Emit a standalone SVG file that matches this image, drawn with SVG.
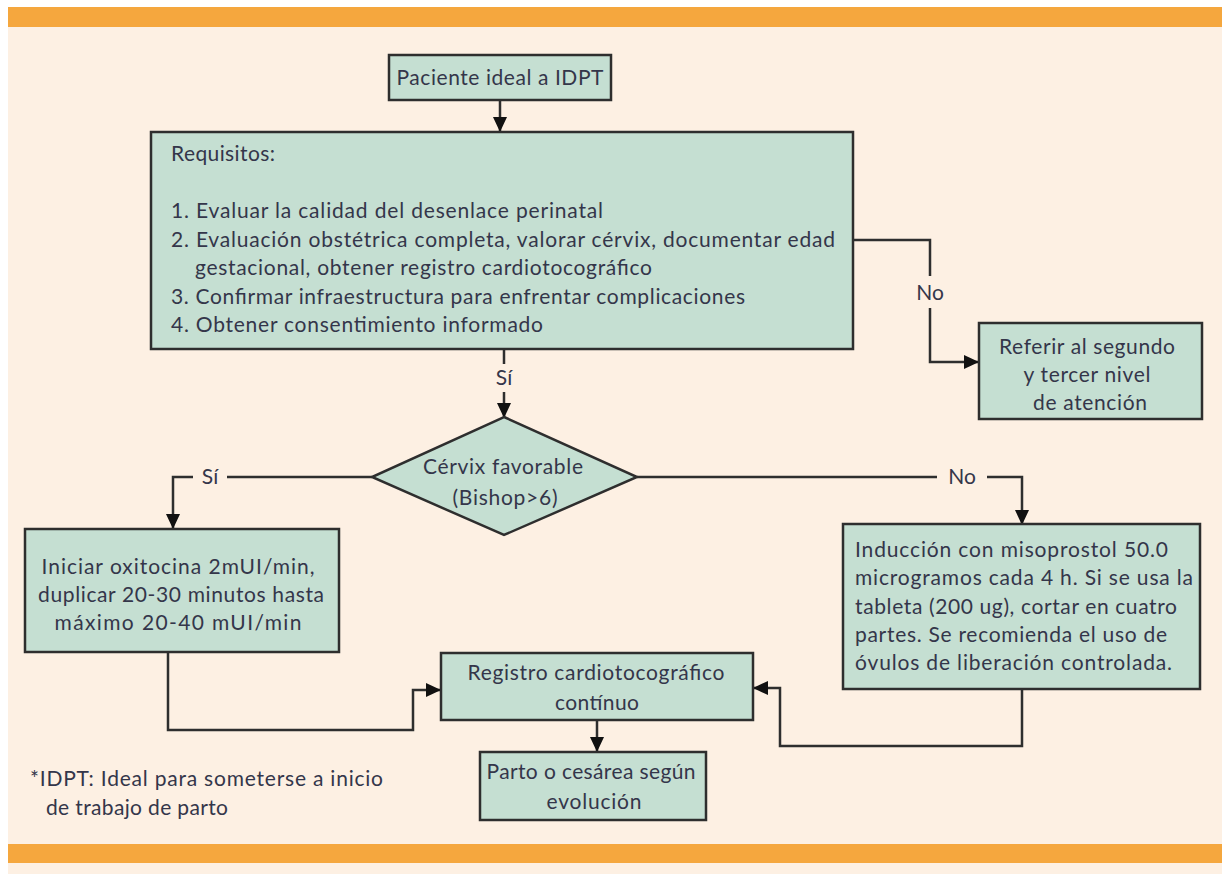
<svg xmlns="http://www.w3.org/2000/svg" width="1229" height="882" viewBox="0 0 1229 882">
<defs>
<style>
.bg{fill:#fdf0e3}
.bar{fill:#f5a73e}
.box{fill:#c5dfd2;stroke:#2e2e2e;stroke-width:2.5}
.t{font-family:Lato,"Liberation Sans",sans-serif;font-size:21px;fill:#34364a}
.c{text-anchor:middle}
.ln{fill:none;stroke:#2e2e2e;stroke-width:2.5}
</style>
<marker id="ah" markerUnits="userSpaceOnUse" markerWidth="16" markerHeight="16" viewBox="0 0 16 16" refX="14" refY="8" orient="auto">
<path d="M0,1 L15,8 L0,15 Z" fill="#111"/>
</marker>
</defs>
<rect x="0" y="0" width="1229" height="882" fill="#ffffff"/>
<rect class="bg" x="8" y="8" width="1214" height="866"/>
<rect class="bar" x="8" y="7" width="1214" height="20"/>
<rect class="bar" x="8" y="844" width="1214" height="19"/>

<g id="connectors">
<path class="ln" d="M500,100 V131" marker-end="url(#ah)"/>
<path class="ln" d="M853,240 H930 V276"/>
<path class="ln" d="M930,308 V362 H978" marker-end="url(#ah)"/>
<path class="ln" d="M504,349 V364"/>
<path class="ln" d="M504,392 V417" marker-end="url(#ah)"/>
<path class="ln" d="M372,477 H227"/>
<path class="ln" d="M193,477 H173 V528" marker-end="url(#ah)"/>
<path class="ln" d="M637,477 H937"/>
<path class="ln" d="M987,477 H1022 V524" marker-end="url(#ah)"/>
<path class="ln" d="M168,652 V730 H413 V690 H440" marker-end="url(#ah)"/>
<path class="ln" d="M1022,689 V746 H780 V688 H754" marker-end="url(#ah)"/>
<path class="ln" d="M597,720 V751" marker-end="url(#ah)"/>
<text class="t c" x="930" y="300">No</text>
<text class="t c" x="504" y="385">Sí</text>
<text class="t c" x="210" y="484">Sí</text>
<text class="t c" x="962" y="484">No</text>
</g>

<g id="n-paciente">
<rect class="box" x="389" y="55" width="222" height="45"/>
<text class="t c" x="500" y="85" textLength="207">Paciente ideal a IDPT</text>
</g>

<g id="n-requisitos">
<rect class="box" x="151" y="132" width="702" height="217"/>
<text class="t" x="171" y="161" textLength="104">Requisitos:</text>
<text class="t" x="171" y="218" textLength="432">1. Evaluar la calidad del desenlace perinatal</text>
<text class="t" x="171" y="247" textLength="664">2. Evaluación obstétrica completa, valorar cérvix, documentar edad</text>
<text class="t" x="195" y="275" textLength="457">gestacional, obtener registro cardiotocográfico</text>
<text class="t" x="171" y="304" textLength="574">3. Confirmar infraestructura para enfrentar complicaciones</text>
<text class="t" x="171" y="332" textLength="372">4. Obtener consentimiento informado</text>
</g>

<g id="n-referir">
<rect class="box" x="979" y="323" width="223" height="96"/>
<text class="t c" x="1087" y="354" textLength="176">Referir al segundo</text>
<text class="t c" x="1087" y="382" textLength="127">y tercer nivel</text>
<text class="t c" x="1090" y="410" textLength="114">de atención</text>
</g>

<g id="n-cervix">
<polygon class="box" points="504,417 637,477 504,535 372,477"/>
<text class="t c" x="503" y="474" textLength="160">Cérvix favorable</text>
<text class="t c" x="505" y="505" textLength="105">(Bishop&gt;6)</text>
</g>

<g id="n-oxitocina">
<rect class="box" x="25" y="529" width="314" height="123"/>
<text class="t c" x="178" y="574" textLength="273">Iniciar oxitocina 2mUI/min,</text>
<text class="t c" x="181" y="602" textLength="286">duplicar 20-30 minutos hasta</text>
<text class="t c" x="178" y="630" textLength="247">máximo 20-40 mUI/min</text>
</g>

<g id="n-misoprostol">
<rect class="box" x="843" y="524" width="357" height="165"/>
<text class="t" x="855" y="557" textLength="313">Inducción con misoprostol 50.0</text>
<text class="t" x="855" y="585" textLength="338">microgramos cada 4 h. Si se usa la</text>
<text class="t" x="855" y="614" textLength="322">tableta (200 ug), cortar en cuatro</text>
<text class="t" x="855" y="642" textLength="312">partes. Se recomienda el uso de</text>
<text class="t" x="855" y="670" textLength="317">óvulos de liberación controlada.</text>
</g>

<g id="n-registro">
<rect class="box" x="441" y="653" width="312" height="67"/>
<text class="t c" x="596" y="680" textLength="257">Registro cardiotocográfico</text>
<text class="t c" x="597" y="710" textLength="84">contínuo</text>
</g>

<g id="n-parto">
<rect class="box" x="480" y="752" width="226" height="68"/>
<text class="t c" x="591" y="779" textLength="209">Parto o cesárea según</text>
<text class="t c" x="594" y="809" textLength="95">evolución</text>
</g>

<g id="footnote">
<text class="t" x="30" y="786" textLength="353">*IDPT: Ideal para someterse a inicio</text>
<text class="t" x="46" y="815" textLength="182">de trabajo de parto</text>
</g>
</svg>
